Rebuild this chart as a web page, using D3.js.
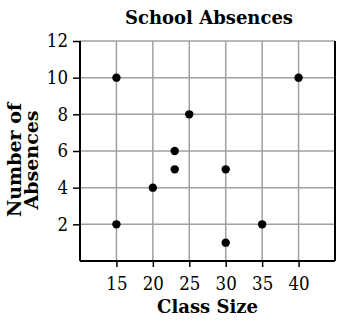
<!DOCTYPE html>
<html><head><meta charset="utf-8">
<script src="https://cdn.jsdelivr.net/npm/d3@7"></script>
<style>body{margin:0;background:#fff}svg{display:block}text{font-family:"DejaVu Serif",serif}</style>
</head><body><svg id="c" width="341" height="324"></svg>
<script>
const title = "School Absences";
const xLabel = "Class Size";
const yLabelLines = ["Number of", "Absences"];
const classSize = [15, 15, 20, 23, 23, 25, 30, 30, 35, 40];
const absences  = [10, 2, 4, 6, 5, 8, 5, 1, 2, 10];
const xTicks = [15, 20, 25, 30, 35, 40];
const yTicks = [2, 4, 6, 8, 10, 12];

const svg = d3.select("#c");
const L = 80, R = 335, T = 41, B = 261;
const x = d3.scaleLinear().domain([10, 45]).range([L, R]);
const y = d3.scaleLinear().domain([0, 12]).range([B, T]);

// grid
svg.append("g").selectAll("line").data(xTicks).join("line")
  .attr("x1", d => x(d)).attr("x2", d => x(d)).attr("y1", T).attr("y2", B)
  .attr("stroke", "#a0a0a0").attr("stroke-width", 1.5);
svg.append("g").selectAll("line").data(yTicks).join("line")
  .attr("x1", L).attr("x2", R).attr("y1", d => y(d)).attr("y2", d => y(d))
  .attr("stroke", "#a0a0a0").attr("stroke-width", 1.5);

// axes
const yAxis = svg.append("g").attr("transform", `translate(${L},0)`)
  .call(d3.axisLeft(y).tickValues(yTicks).tickSize(7).tickPadding(5).tickSizeOuter(0));
const xAxis = svg.append("g").attr("transform", `translate(0,${B})`)
  .call(d3.axisBottom(x).tickValues(xTicks).tickSize(6).tickPadding(10).tickSizeOuter(0));
[yAxis, xAxis].forEach(g => {
  g.select(".domain").attr("stroke", "#000").attr("stroke-width", 2);
  g.selectAll(".tick line").attr("stroke", "#000").attr("stroke-width", 1.5);
  g.selectAll(".tick text").attr("fill", "#000").style("font-size", "18.5px")
    .style("font-family", "DejaVu Serif").attr("font-stretch","condensed");
});
yAxis.select(".domain").attr("d", `M0,${T}V${B}`);
xAxis.select(".domain").attr("d", `M${L},0H${R}`);
// right border
svg.append("line").attr("x1", R).attr("x2", R).attr("y1", T).attr("y2", B)
  .attr("stroke", "#000").attr("stroke-width", 2);

// points
svg.append("g").selectAll("circle").data(classSize.map((c, i) => [c, absences[i]])).join("circle")
  .attr("cx", d => x(d[0])).attr("cy", d => y(d[1])).attr("r", 4.2).attr("fill", "#000");

// title
svg.append("text").attr("x", 209).attr("y", 24).attr("text-anchor", "middle")
  .attr("font-weight", "bold").style("font-size", "18px").text(title);
// x label
svg.append("text").attr("x", (L + R) / 2).attr("y", 313).attr("text-anchor", "middle")
  .attr("font-weight", "bold").style("font-size", "18px").text(xLabel);
// y label
const yl = svg.append("text").attr("transform", "translate(0,160) rotate(-90)")
  .attr("text-anchor", "middle").attr("font-weight", "bold").style("font-size", "19px");
yLabelLines.forEach((t, i) => yl.append("tspan").attr("x", 0).attr("y", 21 + i * 17).text(t));
</script></body></html>
